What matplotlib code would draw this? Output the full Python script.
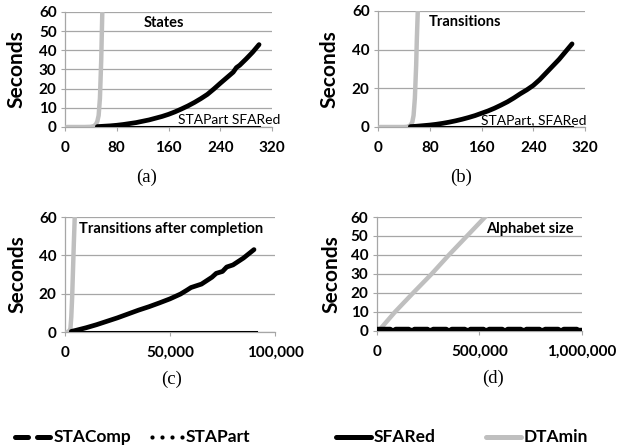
import matplotlib
matplotlib.use("Agg")
import matplotlib.pyplot as plt
from matplotlib.lines import Line2D

W, H = 626, 448

# ---------------- data ----------------
# (a) States
a_x = [50, 60, 70, 80, 90, 100, 110, 120, 130, 140, 150, 160, 170, 180, 190,
       200, 210, 220, 230, 240, 250, 260, 265, 270, 280, 290, 300]
a_comp = [0.2, 0.4, 0.6, 0.9, 1.3, 1.8, 2.3, 3.0, 3.7, 4.6, 5.5, 6.6, 7.9, 9.4, 11.0,
          12.8, 14.8, 17.0, 19.8, 22.8, 25.7, 28.6, 31.0, 32.2, 35.5, 39.0, 43.0]
a_flat_x = [50, 300]
a_flat = [0.1, 0.1]
a_dta_x = [3, 10, 20, 30, 40, 45, 48, 50, 52, 54, 56, 57, 58]
a_dta = [0, 0, 0, 0, 0.1, 0.5, 1.5, 3, 6, 15, 35, 50, 65]

# (b) Transitions
b_x = [50, 60, 70, 80, 90, 100, 110, 120, 130, 140, 150, 160, 170, 180, 190,
       200, 210, 220, 230, 240, 250, 260, 270, 280, 290, 300]
b_comp = [0.2, 0.4, 0.7, 1.0, 1.4, 1.9, 2.5, 3.2, 4.0, 4.9, 5.9, 7.1, 8.3, 9.7, 11.3,
          13.0, 15.0, 17.2, 19.2, 21.5, 24.5, 28.0, 31.5, 35.0, 39.0, 43.0]
b_flat_x = [50, 300]
b_flat = [0.1, 0.1]
b_dta_x = [3, 10, 20, 30, 40, 45, 50, 53, 55, 57, 59, 60, 62]
b_dta = [0, 0, 0, 0, 0, 0.1, 0.8, 2.5, 6, 15, 32, 45, 65]

# (c) Transitions after completion
c_x = [3000, 5000, 10000, 15000, 20000, 25000, 30000, 35000, 40000, 45000, 50000,
       55000, 58000, 60000, 65000, 70000, 72000, 75000, 77000, 80000, 85000, 90000]
c_comp = [0.3, 0.8, 2.2, 3.8, 5.6, 7.4, 9.4, 11.4, 13.2, 15.2, 17.3,
          19.8, 21.8, 23.2, 25.0, 28.6, 30.6, 31.6, 33.9, 35.0, 38.6, 43.0]
c_flat_x = [3000, 91000]
c_flat = [0.1, 0.1]
c_dta_x = [1000, 2000, 2600, 3000, 3400, 3800, 4200, 4700]
c_dta = [0, 0.2, 2, 8, 18, 32, 46, 62]

# (d) Alphabet size
d_x = [0, 100000, 200000, 300000, 400000, 500000, 600000, 700000, 800000, 900000, 1000000]
d_comp = [1.0, 1.0, 1.0, 1.0, 1.0, 1.0, 1.0, 1.0, 1.0, 1.0, 1.0]
d_flat = [0.3, 0.3, 0.3, 0.3, 0.3, 0.3, 0.3, 0.3, 0.3, 0.3, 0.3]
d_dta_x = [10000, 90000, 178000, 268000, 352000, 440000, 528000, 615000]
d_dta = [0, 10, 20, 30, 40, 50, 60, 70]

legend_labels = ["STAComp", "STAPart", "SFARed", "DTAmin"]

# ---------------- style ----------------
FONT = "Lato"
GRAY_AX = "#A6A6A6"
DTA_COL = "#BFBFBF"

fig = plt.figure(figsize=(W / 100, H / 100), dpi=100)


def add_ax(l, r, t, b):
    return fig.add_axes([l / W, 1 - b / H, (r - l) / W, (b - t) / H])


def style(ax, xmax, xticks, xlabels, yticks):
    ax.set_xlim(0, xmax)
    ax.set_ylim(0, 60)
    ax.set_xticks(xticks)
    ax.set_xticklabels(xlabels)
    ax.set_yticks(yticks)
    ax.set_yticklabels([str(v) for v in yticks])
    for s in ("top", "right"):
        ax.spines[s].set_visible(False)
    for s in ("left", "bottom"):
        ax.spines[s].set_color(GRAY_AX)
        ax.spines[s].set_linewidth(0.9)
    ax.grid(axis="y", color=GRAY_AX, linewidth=0.9)
    ax.set_axisbelow(True)
    ax.tick_params(axis="x", direction="out", length=3, color=GRAY_AX, pad=7,
                   labelsize=11)
    ax.tick_params(axis="y", direction="out", length=3, color=GRAY_AX, pad=3,
                   labelsize=11)
    for lab in ax.get_xticklabels() + ax.get_yticklabels():
        lab.set_fontfamily(FONT)
        lab.set_fontweight("bold")
    ax.set_ylabel("Seconds", fontfamily=FONT, fontweight="bold", fontsize=15)


def draw(ax, x, comp, fx, flat, dx, dta):
    ax.plot(dx, dta, color=DTA_COL, lw=3.2, solid_capstyle="round", zorder=3)
    ax.plot(fx, flat, color="black", lw=2.2, zorder=4)
    ax.plot(x, comp, color="black", lw=3.4, solid_capstyle="round", zorder=5)


# (a)
ax = add_ax(65, 272, 12, 127)
draw(ax, a_x, a_comp, a_flat_x, a_flat, a_dta_x, a_dta)
style(ax, 320, [0, 80, 160, 240, 320], ["0", "80", "160", "240", "320"],
      [0, 10, 20, 30, 40, 50, 60])
ax.yaxis.set_label_coords(-0.185, 0.5)
ax.text(153, 54, "States", ha="center", va="center", fontfamily=FONT,
        fontweight="bold", fontsize=10.5)
ax.text(175, 0.3, "STAPart SFARed", ha="left", va="bottom", fontfamily=FONT,
        fontsize=10, clip_on=False, zorder=6)

# (b)
ax = add_ax(378, 585, 11, 127)
draw(ax, b_x, b_comp, b_flat_x, b_flat, b_dta_x, b_dta)
style(ax, 320, [0, 80, 160, 240, 320], ["0", "80", "160", "240", "320"],
      [0, 20, 40, 60])
ax.yaxis.set_label_coords(-0.185, 0.5)
ax.text(134, 54.4, "Transitions", ha="center", va="center", fontfamily=FONT,
        fontweight="bold", fontsize=10.5)
ax.text(159, 0.5, "STAPart, SFARed", ha="left", va="bottom", fontfamily=FONT,
        fontsize=10, clip_on=False, zorder=6)

# (c)
ax = add_ax(65, 275, 217, 332)
draw(ax, c_x, c_comp, c_flat_x, c_flat, c_dta_x, c_dta)
style(ax, 100000, [0, 50000, 100000], ["0", "50,000", "100,000"], [0, 20, 40, 60])
ax.yaxis.set_label_coords(-0.18, 0.5)
ax.text(50500, 53.7, "Transitions after completion", ha="center", va="center",
        fontfamily=FONT, fontweight="bold", fontsize=10.5)

# (d)
ax = add_ax(376.7, 582, 217, 330.7)
ax.plot(d_dta_x, d_dta, color=DTA_COL, lw=3.2, solid_capstyle="round", zorder=3)
ax.plot(d_x, d_flat, color="black", lw=3.2, zorder=4)
ax.plot(d_x, d_comp, color="black", lw=3.2, linestyle=(0, (3, 1.2)),
        dash_capstyle="round", zorder=5)
style(ax, 1000000, [0, 500000, 1000000], ["0", "500,000", "1,000,000"],
      [0, 10, 20, 30, 40, 50, 60])
ax.yaxis.set_label_coords(-0.17, 0.5)
ax.text(747000, 53.7, "Alphabet size", ha="center", va="center",
        fontfamily=FONT, fontweight="bold", fontsize=10.5)

# captions
for cx, cy, lab in [(147, 177, "(a)"), (461, 177, "(b)"), (172, 379, "(c)"),
                    (493, 378, "(d)")]:
    fig.text(cx / W, 1 - cy / H, lab, ha="center", va="center",
             fontfamily="Liberation Serif", fontsize=13.5)

# legend (manual)
ly = 1 - 437 / H
LW = 3.6
# STAComp: two dashes
for x0, x1 in [(14.5, 27.5), (36.5, 50.5)]:
    fig.add_artist(Line2D([x0 / W, x1 / W], [ly, ly], transform=fig.transFigure,
                          color="black", lw=LW, solid_capstyle="round"))
# STAPart: four dots
for xd in [152, 162, 172, 182]:
    fig.add_artist(Line2D([xd / W], [ly], transform=fig.transFigure, marker="o",
                          markersize=3.0, markeredgewidth=0, color="black",
                          linestyle="none"))
entries = [
    (None, 54),
    (None, 186),
    (dict(x=(335.5, 371), color="black", lw=LW, solid_capstyle="round"), 374),
    (dict(x=(485.5, 521), color=DTA_COL, lw=LW, solid_capstyle="round"), 524),
]
for (st, tx), lab in zip(entries, legend_labels):
    if st is not None:
        st = dict(st)
        x0, x1 = st.pop("x")
        fig.add_artist(Line2D([x0 / W, x1 / W], [ly, ly], transform=fig.transFigure, **st))
    fig.text(tx / W, ly, lab, ha="left", va="center", fontfamily=FONT,
             fontweight="bold", fontsize=12.5)

fig.savefig("out.png", dpi=100)
